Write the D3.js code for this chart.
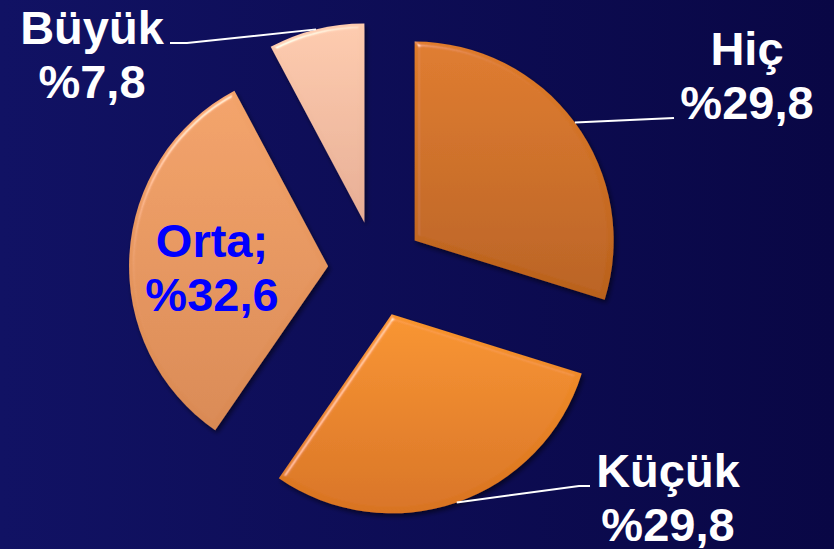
<!DOCTYPE html>
<html>
<head>
<meta charset="utf-8">
<script src="https://cdn.jsdelivr.net/npm/d3@7"></script>
<style>
  html, body { margin: 0; padding: 0; background: #0d0c55; }
  svg { display: block; }
</style>
</head>
<body>
<svg id="chart" width="834" height="549"></svg>
<script>
// data
const categories = ["Hiç", "Küçük", "Orta", "Büyük"];
const values = [29.8, 29.8, 32.6, 7.8];
const valueLabels = ["%29,8", "%29,8", "%32,6", "%7,8"];

const colorsTop = ["#df7b2a", "#f8942d", "#f3a36a", "#fdcbae"];
const colorsBottom = ["#b9611d", "#d87320", "#d98953", "#e6ad94"];

const width = 834, height = 549;
const cx = 376, cy = 269;
const radius = 199;
const explode = 48;

const svg = d3.select("#chart");
const defs = svg.append("defs");

// background
const bg = defs.append("linearGradient").attr("id", "bg").attr("x1", "0").attr("x2", "1").attr("y1", "0").attr("y2", "0");
bg.append("stop").attr("offset", "0").attr("stop-color", "#111264");
bg.append("stop").attr("offset", "1").attr("stop-color", "#090745");
svg.append("rect").attr("width", width).attr("height", height).attr("fill", "url(#bg)");

// slice gradients
categories.forEach((c, i) => {
    const g = defs.append("linearGradient").attr("id", "grad" + i)
        .attr("x1", "0").attr("x2", "0").attr("y1", "0").attr("y2", "1");
    g.append("stop").attr("offset", "0").attr("stop-color", colorsTop[i]);
    g.append("stop").attr("offset", "1").attr("stop-color", colorsBottom[i]);
});

// bevel + shadow filter
const f = defs.append("filter").attr("id", "bevel").attr("x", "-10%").attr("y", "-10%").attr("width", "120%").attr("height", "120%");
f.append("feGaussianBlur").attr("in", "SourceAlpha").attr("stdDeviation", 2.5).attr("result", "blur");
const spec = f.append("feSpecularLighting").attr("in", "blur").attr("surfaceScale", 4)
    .attr("specularConstant", 0.45).attr("specularExponent", 35).attr("lighting-color", "#ffffff").attr("result", "spec");
spec.append("feDistantLight").attr("azimuth", 235).attr("elevation", 35);
f.append("feComposite").attr("in", "spec").attr("in2", "SourceAlpha").attr("operator", "in").attr("result", "specIn");
f.append("feComposite").attr("in", "SourceGraphic").attr("in2", "specIn").attr("operator", "arithmetic")
    .attr("k1", 0).attr("k2", 1).attr("k3", 1).attr("k4", 0).attr("result", "lit");
f.append("feGaussianBlur").attr("in", "SourceAlpha").attr("stdDeviation", 2.5).attr("result", "sblur");
f.append("feOffset").attr("in", "sblur").attr("dx", 2).attr("dy", 3).attr("result", "soff");
f.append("feComponentTransfer").attr("in", "soff").attr("result", "shadow")
    .append("feFuncA").attr("type", "linear").attr("slope", 0.55);
const merge = f.append("feMerge");
merge.append("feMergeNode").attr("in", "shadow");
merge.append("feMergeNode").attr("in", "lit");

const pie = d3.pie().sort(null).value(d => d)(values);
const arc = d3.arc().innerRadius(0).outerRadius(radius);
const rimArc = d3.arc().innerRadius(radius).outerRadius(radius);

function offsetOf(d) {
    const a = (d.startAngle + d.endAngle) / 2;
    return [explode * Math.sin(a), -explode * Math.cos(a)];
}

const g = svg.append("g").attr("transform", "translate(" + cx + "," + cy + ")");

const slices = g.selectAll(".slice").data(pie).enter().append("g")
    .attr("class", "slice")
    .attr("transform", d => "translate(" + offsetOf(d) + ")");

slices.append("path")
    .attr("d", arc)
    .attr("fill", (d, i) => "url(#grad" + i + ")")
    .attr("filter", "url(#bevel)");

// label layout (positions of label blocks, absolute)
const labelPos = [
    { x: 747, y: 65, color: "#ffffff", leaderEnd: [[674, 118]], nameSuffix: "" },
    { x: 668, y: 487, color: "#ffffff", leaderEnd: [[579, 486], [590, 486]], nameSuffix: "" },
    { x: 212, y: 257, color: "#0000ff", leaderEnd: null, nameSuffix: ";" },
    { x: 92, y: 44, color: "#ffffff", leaderEnd: [[187, 43], [170, 43]], nameSuffix: "" }
];

// leader lines
pie.forEach((d, i) => {
    const lp = labelPos[i];
    if (!lp.leaderEnd) return;
    const off = offsetOf(d);
    const rim = rimArc.centroid(d);
    const start = [cx + off[0] + rim[0], cy + off[1] + rim[1]];
    const pts = [start].concat(lp.leaderEnd);
    svg.append("path")
        .attr("d", d3.line()(pts))
        .attr("fill", "none")
        .attr("stroke", "#ffffff")
        .attr("stroke-width", 2);
});

// labels
const labels = svg.selectAll(".label").data(pie).enter().append("text")
    .attr("class", "label")
    .attr("text-anchor", "middle")
    .attr("font-family", "Liberation Sans, Arial, sans-serif")
    .attr("font-weight", "bold")
    .attr("font-size", 47)
    .attr("fill", (d, i) => labelPos[i].color);

labels.append("tspan")
    .attr("x", (d, i) => labelPos[i].x)
    .attr("y", (d, i) => labelPos[i].y)
    .text((d, i) => categories[i] + labelPos[i].nameSuffix);

labels.append("tspan")
    .attr("x", (d, i) => labelPos[i].x)
    .attr("y", (d, i) => labelPos[i].y + 54)
    .text((d, i) => valueLabels[i]);
</script>
</body>
</html>
